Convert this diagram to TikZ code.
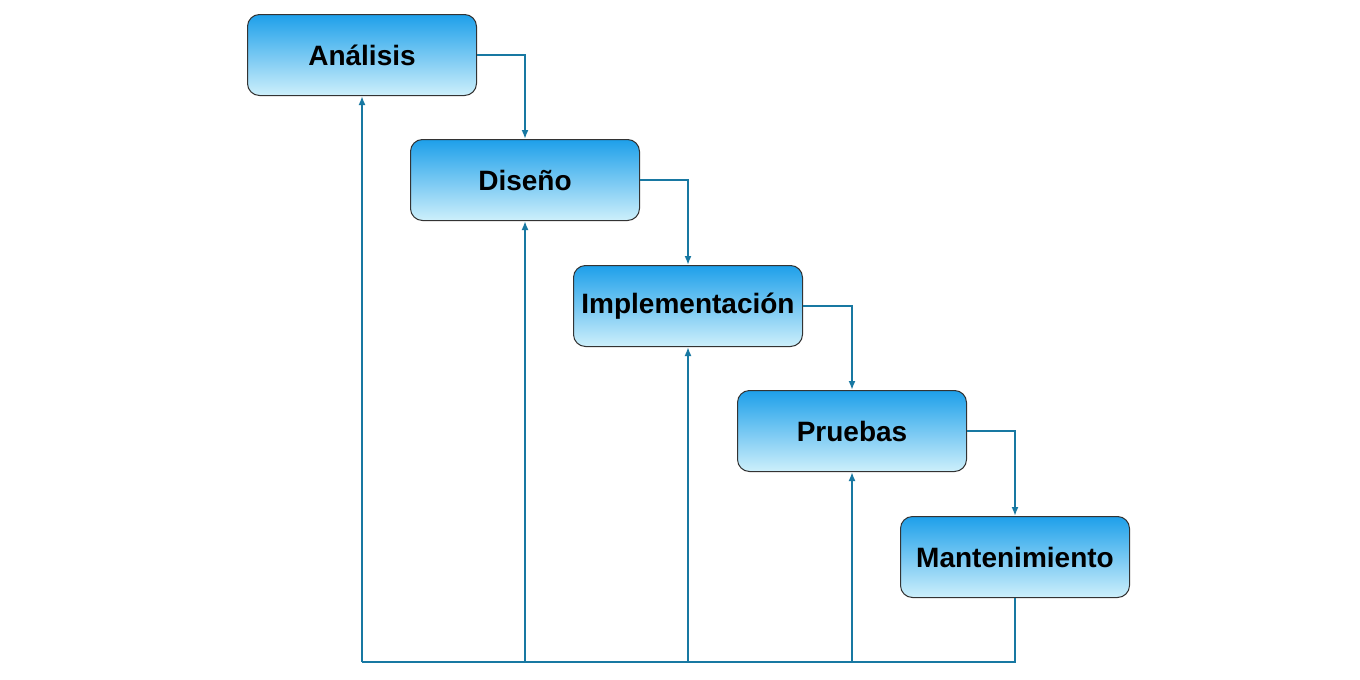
\documentclass[tikz,border=0pt]{standalone}
\usepackage{fontspec}
\setmainfont{Liberation Sans}
\usetikzlibrary{arrows.meta}
\definecolor{conn}{HTML}{1878A2}
\definecolor{boxtop}{HTML}{1EA0EA}
\definecolor{boxbot}{HTML}{CDEFFB}
\tikzset{
 stage/.style={draw=black!80, line width=1pt, rounded corners=12pt, minimum width=229pt, minimum height=81pt,
   top color=boxtop, bottom color=boxbot, font=\fontsize{28}{32}\selectfont\bfseries, anchor=north west},
 link/.style={draw=conn, line width=2.5pt, -{Latex[length=9pt,width=7pt]}},
 line/.style={draw=conn, line width=2.5pt}
}
\begin{document}
\begin{tikzpicture}[x=1pt,y=-1pt]
\useasboundingbox (0,0) rectangle (1360,680);
\node[stage] (a) at (247,14) {Análisis};
\node[stage] (d) at (410,139) {Diseño};
\node[stage] (i) at (573,265) {Implementación};
\node[stage] (p) at (737,390) {Pruebas};
\node[stage] (m) at (900,516) {Mantenimiento};
\draw[link] (a.east) -| (d.north);
\draw[link] (d.east) -| (i.north);
\draw[link] (i.east) -| (p.north);
\draw[link] (p.east) -| (m.north);
\coordinate (bm) at (m.south |- 0,662);
\coordinate (ba) at (a.south |- 0,662);
\coordinate (bd) at (d.south |- 0,662);
\coordinate (bi) at (i.south |- 0,662);
\coordinate (bp) at (p.south |- 0,662);
\draw[line] (m.south) -- (bm) -- (ba);
\draw[link] (ba) -- (a.south);
\draw[link] (bd) -- (d.south);
\draw[link] (bi) -- (i.south);
\draw[link] (bp) -- (p.south);
\end{tikzpicture}
\end{document}
